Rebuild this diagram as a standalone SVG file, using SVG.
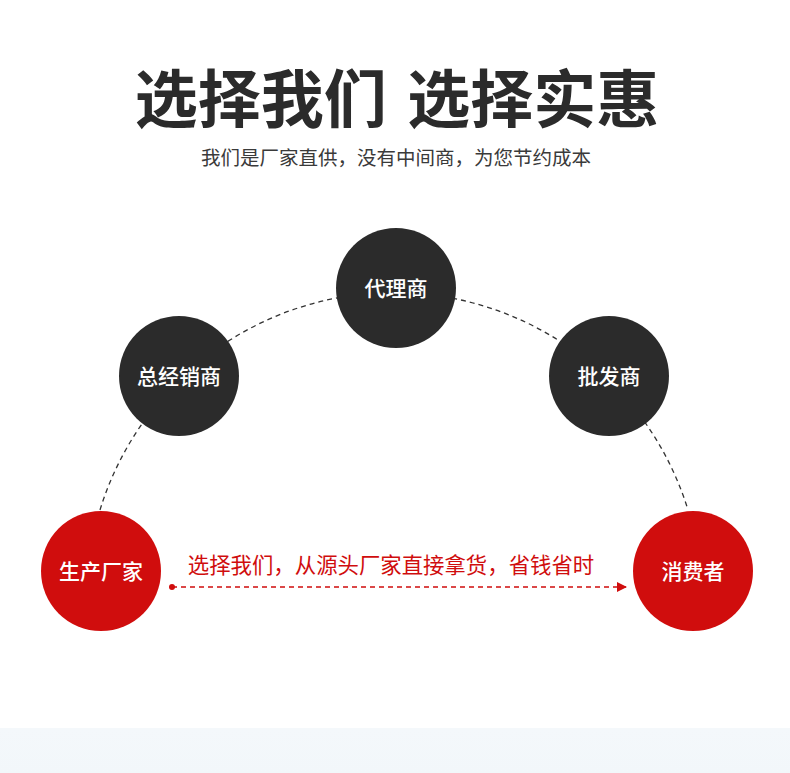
<svg xmlns="http://www.w3.org/2000/svg" width="790" height="773" viewBox="0 0 790 773">
<style>
.cjk{font-family:"Noto Sans CJK SC","Noto Sans",sans-serif}
.dark{fill:#2b2b2b}
.red{fill:#d00d0d}
.lbl{fill:#ffffff;font-size:21px;font-weight:500;text-anchor:middle}
.conn{fill:none;stroke:#333;stroke-width:1.3;stroke-dasharray:5 4}
</style>
<defs>
<linearGradient id="bg" x1="0" y1="0" x2="0" y2="1">
<stop offset="0" stop-color="#f4f8fb"/>
<stop offset="1" stop-color="#f2f7fa"/>
</linearGradient>
<marker id="ah" viewBox="0 0 10 10" refX="9" refY="5" markerWidth="10" markerHeight="10" markerUnits="userSpaceOnUse" orient="auto">
<path d="M0,0 L10,5 L0,10 Z" fill="#d00d0d"/>
</marker>
</defs>
<rect width="790" height="773" fill="#ffffff"/>
<rect x="0" y="728" width="790" height="45" fill="url(#bg)"/>
<text class="cjk" x="397" y="122" font-size="63" font-weight="bold" fill="#2b2b2b" text-anchor="middle" word-spacing="6">选择我们 选择实惠</text>
<text class="cjk" x="396" y="165" font-size="19.5" fill="#3a3a3a" text-anchor="middle">我们是厂家直供，没有中间商，为您节约成本</text>
<g id="connectors">
<path class="conn" d="M100,510 A307.5,307.5 0 0 1 688,510"/>
<circle cx="172" cy="587" r="3" fill="#d00d0d"/>
<line x1="172" y1="587" x2="626" y2="587" stroke="#d00d0d" stroke-width="1.3" stroke-dasharray="5 4" marker-end="url(#ah)"/>
<text class="cjk" x="391" y="573" font-size="21.4" fill="#d00d0d" text-anchor="middle">选择我们，从源头厂家直接拿货，省钱省时</text>
</g>
<g id="node-agent">
<circle class="dark" cx="396" cy="288" r="60"/>
<text class="cjk lbl" x="396" y="296">代理商</text>
</g>
<g id="node-distributor">
<circle class="dark" cx="179" cy="376" r="60"/>
<text class="cjk lbl" x="179" y="384">总经销商</text>
</g>
<g id="node-wholesaler">
<circle class="dark" cx="609" cy="376" r="60"/>
<text class="cjk lbl" x="609" y="384">批发商</text>
</g>
<g id="node-manufacturer">
<circle class="red" cx="101" cy="571" r="60"/>
<text class="cjk lbl" x="101" y="579">生产厂家</text>
</g>
<g id="node-consumer">
<circle class="red" cx="693" cy="571" r="60"/>
<text class="cjk lbl" x="693" y="579">消费者</text>
</g>
</svg>
